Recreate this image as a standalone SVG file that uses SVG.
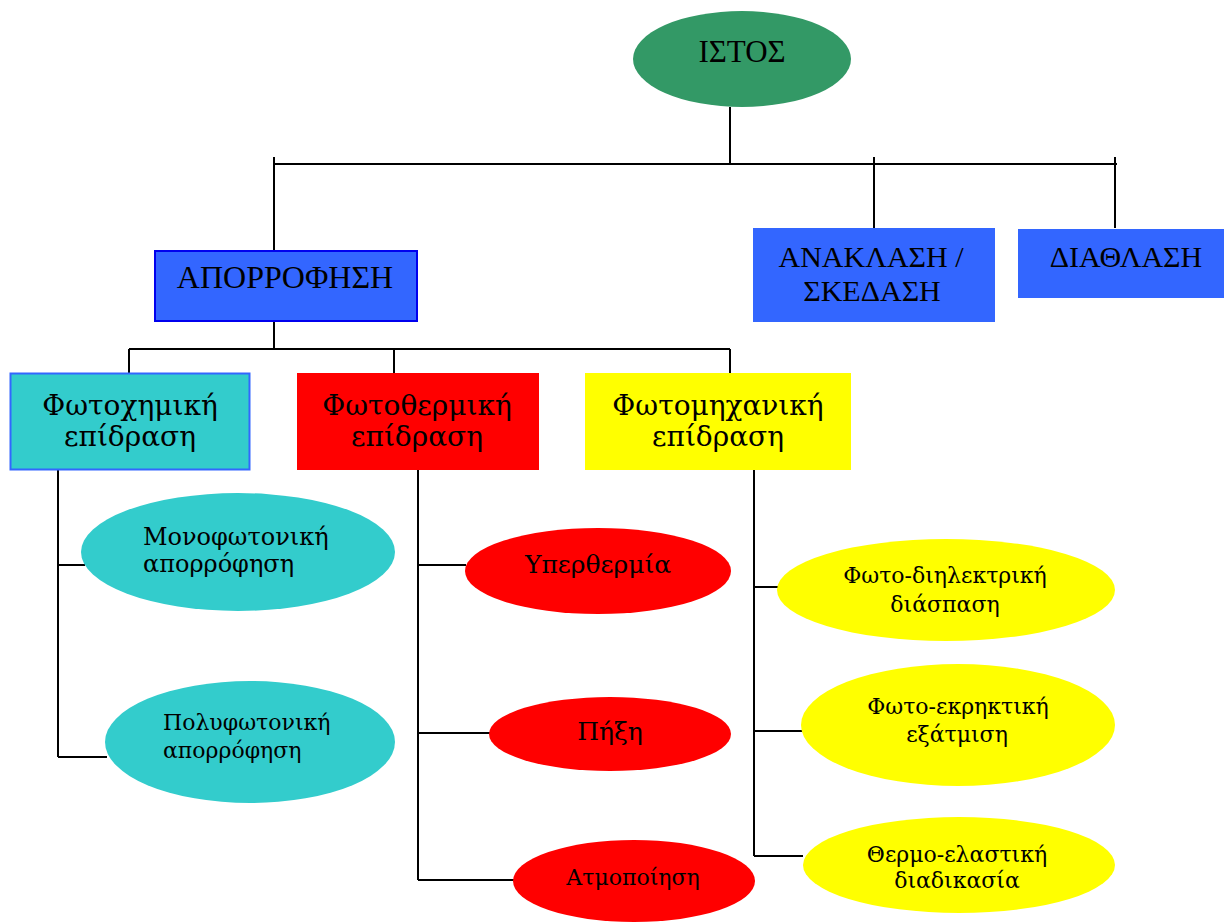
<svg xmlns="http://www.w3.org/2000/svg" width="1224" height="922" viewBox="0 0 1224 922">
<style>
.ln{stroke:#000;stroke-width:2;fill:none}
.cap{font-family:"Liberation Serif","DejaVu Serif",serif;font-size:31px;fill:#000;text-anchor:middle}
.bx{font-family:"DejaVu Serif","Liberation Serif",serif;font-size:28px;fill:#000;text-anchor:middle}
.el{font-family:"DejaVu Serif","Liberation Serif",serif;font-size:22px;fill:#000;text-anchor:middle}
.st{text-anchor:start}
.blue{fill:#3366FF}
</style>
<rect width="1224" height="922" fill="#fff"/>
<g id="connectors" class="ln">
<path d="M730 107V164M274 164H1117M274 157V250M874 157V228M1115 157V228"/>
<path d="M274 322V349M129 349H730M129 349V373M394 349V373M730 349V373"/>
<path d="M58 470V757M58 565H85M58 757H107"/>
<path d="M418 470V880M418 565H466M418 733H490M418 880H514"/>
<path d="M754 470V856M754 587H778M754 731H802M754 856H803"/>
</g>
<g id="istos"><ellipse cx="742" cy="59" rx="109" ry="48" fill="#339966"/><text class="cap" x="742" y="62">ΙΣΤΟΣ</text></g>
<g id="aporrofisi"><rect x="155" y="251" width="262" height="70" class="blue" stroke="#0000EE" stroke-width="2"/><text class="cap" x="285" y="288" style="font-size:32px">ΑΠΟΡΡΟΦΗΣΗ</text></g>
<g id="anaklasi"><rect x="753" y="228" width="242" height="94" class="blue"/><text class="cap" x="871" y="267" style="font-size:30px">ΑΝΑΚΛΑΣΗ /</text><text class="cap" x="872" y="301" style="font-size:30px">ΣΚΕΔΑΣΗ</text></g>
<g id="diathlasi"><rect x="1018" y="229" width="206" height="69" class="blue"/><text class="cap" x="1126" y="267" style="font-size:30px">ΔΙΑΘΛΑΣΗ</text></g>
<g id="fotochimiki"><rect x="10.5" y="373.5" width="239" height="96" fill="#33CCCC" stroke="#3366FF" stroke-width="2"/><text class="bx" x="130" y="415">Φωτοχημική</text><text class="bx" x="130" y="446">επίδραση</text></g>
<g id="fotothermiki"><rect x="297" y="373" width="242" height="97" fill="#FF0000"/><text class="bx" x="417" y="415">Φωτοθερμική</text><text class="bx" x="417" y="446">επίδραση</text></g>
<g id="fotomichaniki"><rect x="585" y="373" width="266" height="97" fill="#FFFF00"/><text class="bx" x="718" y="415">Φωτομηχανική</text><text class="bx" x="718" y="446">επίδραση</text></g>
<g id="monofotoniki"><ellipse cx="238" cy="552" rx="157" ry="59" fill="#33CCCC"/><text class="el st" x="143" y="545" style="font-size:24px">Μονοφωτονική</text><text class="el st" x="143" y="572" style="font-size:24px">απορρόφηση</text></g>
<g id="polyfotoniki"><ellipse cx="250" cy="742" rx="145" ry="61" fill="#33CCCC"/><text class="el st" x="163" y="730">Πολυφωτονική</text><text class="el st" x="163" y="758">απορρόφηση</text></g>
<g id="yperthermia"><ellipse cx="598" cy="571" rx="133" ry="43" fill="#FF0000"/><text class="el" x="598" y="573" style="font-size:25px">Υπερθερμία</text></g>
<g id="pixi"><ellipse cx="610" cy="734" rx="121" ry="37" fill="#FF0000"/><text class="el" x="610" y="740" style="font-size:25px">Πήξη</text></g>
<g id="atmopoiisi"><ellipse cx="634" cy="881" rx="121" ry="41" fill="#FF0000"/><text class="el" x="633" y="885">Ατμοποίηση</text></g>
<g id="dielektriki"><ellipse cx="946" cy="590" rx="169" ry="51" fill="#FFFF00"/><text class="el" x="945" y="583">Φωτο-διηλεκτρική</text><text class="el" x="945" y="612">διάσπαση</text></g>
<g id="ekriktiki"><ellipse cx="958" cy="725" rx="157" ry="61" fill="#FFFF00"/><text class="el" x="958" y="714">Φωτο-εκρηκτική</text><text class="el" x="957" y="742">εξάτμιση</text></g>
<g id="thermoelastiki"><ellipse cx="959" cy="865" rx="156" ry="48" fill="#FFFF00"/><text class="el" x="957" y="862">Θερμο-ελαστική</text><text class="el" x="957" y="888">διαδικασία</text></g>
</svg>
